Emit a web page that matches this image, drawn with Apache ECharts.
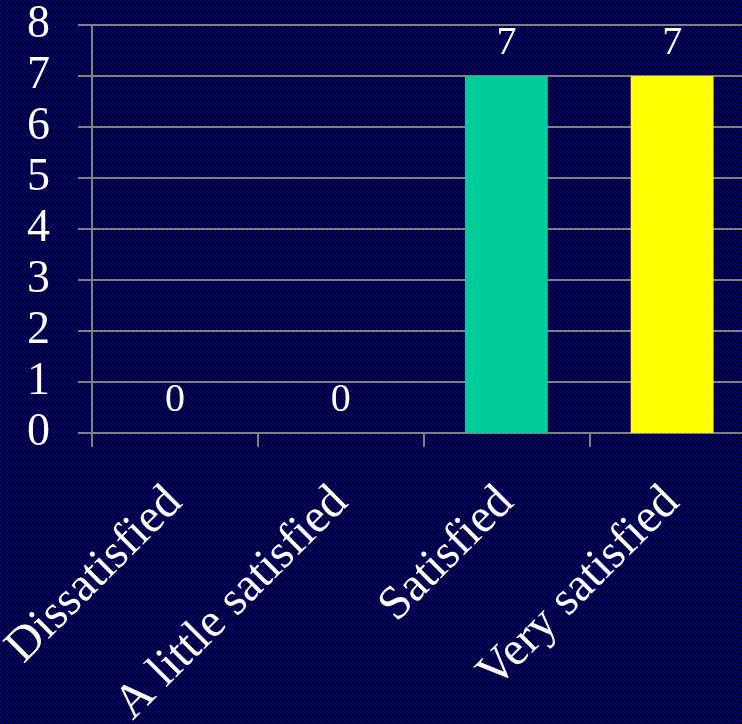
<!DOCTYPE html>
<html>
<head>
<meta charset="utf-8">
<script src="https://cdn.jsdelivr.net/npm/echarts@6/dist/echarts.min.js"></script>
<style>
html,body{margin:0;padding:0;overflow:hidden;width:742px;height:724px;background:#000050;}
#chart{width:755px;height:724px;image-rendering:pixelated;}
</style>
</head>
<body>
<div id="chart"></div>
<script>
const categories = ["Dissatisfied", "A little satisfied", "Satisfied", "Very satisfied"];
const values = [0, 0, 7, 7];
const barColors = ["#00CC99", "#00CC99", "#00CC99", "#FFFF00"];
const yTicks = [0, 1, 2, 3, 4, 5, 6, 7, 8];

// checkered background tile (2px cells)
const tile = document.createElement('canvas');
tile.width = 4; tile.height = 4;
const tctx = tile.getContext('2d');
tctx.fillStyle = '#000000'; tctx.fillRect(0, 0, 4, 4);
tctx.fillStyle = '#000099'; tctx.fillRect(0, 0, 2, 2); tctx.fillRect(2, 2, 2, 2);
const bgEl = document.getElementById('chart');
bgEl.style.backgroundImage = 'url(' + tile.toDataURL() + ')';
bgEl.style.backgroundRepeat = 'repeat';

const chart = echarts.init(bgEl, null, {renderer: 'canvas'});
const font = '"Liberation Serif", "Times New Roman", serif';
chart.setOption({
  backgroundColor: 'transparent',
  animation: false,
  grid: {left: 92, right: 0, top: 25, bottom: 291, containLabel: false, outerBoundsMode: 'none'},
  xAxis: {
    type: 'category',
    data: categories,
    axisLine: {show: true, lineStyle: {color: '#808080', width: 2}},
    axisTick: {show: true, length: 14, alignWithLabel: false, lineStyle: {color: '#808080', width: 2}},
    axisLabel: {rotate: 45, color: '#FFFFFF', fontFamily: font, fontSize: 48, margin: 62, interval: 0}
  },
  yAxis: {
    type: 'value',
    min: yTicks[0],
    max: yTicks[yTicks.length - 1],
    interval: 1,
    axisLine: {show: true, lineStyle: {color: '#808080', width: 2}},
    axisTick: {show: true, length: 14, lineStyle: {color: '#808080', width: 2}},
    splitLine: {show: true, lineStyle: {color: '#808080', width: 2}},
    axisLabel: {color: '#FFFFFF', fontFamily: font, fontSize: 46, margin: 42}
  },
  series: [{
    type: 'bar',
    barWidth: '50%',
    data: values.map((v, i) => ({value: v, itemStyle: {color: barColors[i]}})),
    label: {show: true, position: 'top', distance: 13, color: '#FFFFFF', fontFamily: font, fontSize: 40}
  }]
});
</script>
</body>
</html>
